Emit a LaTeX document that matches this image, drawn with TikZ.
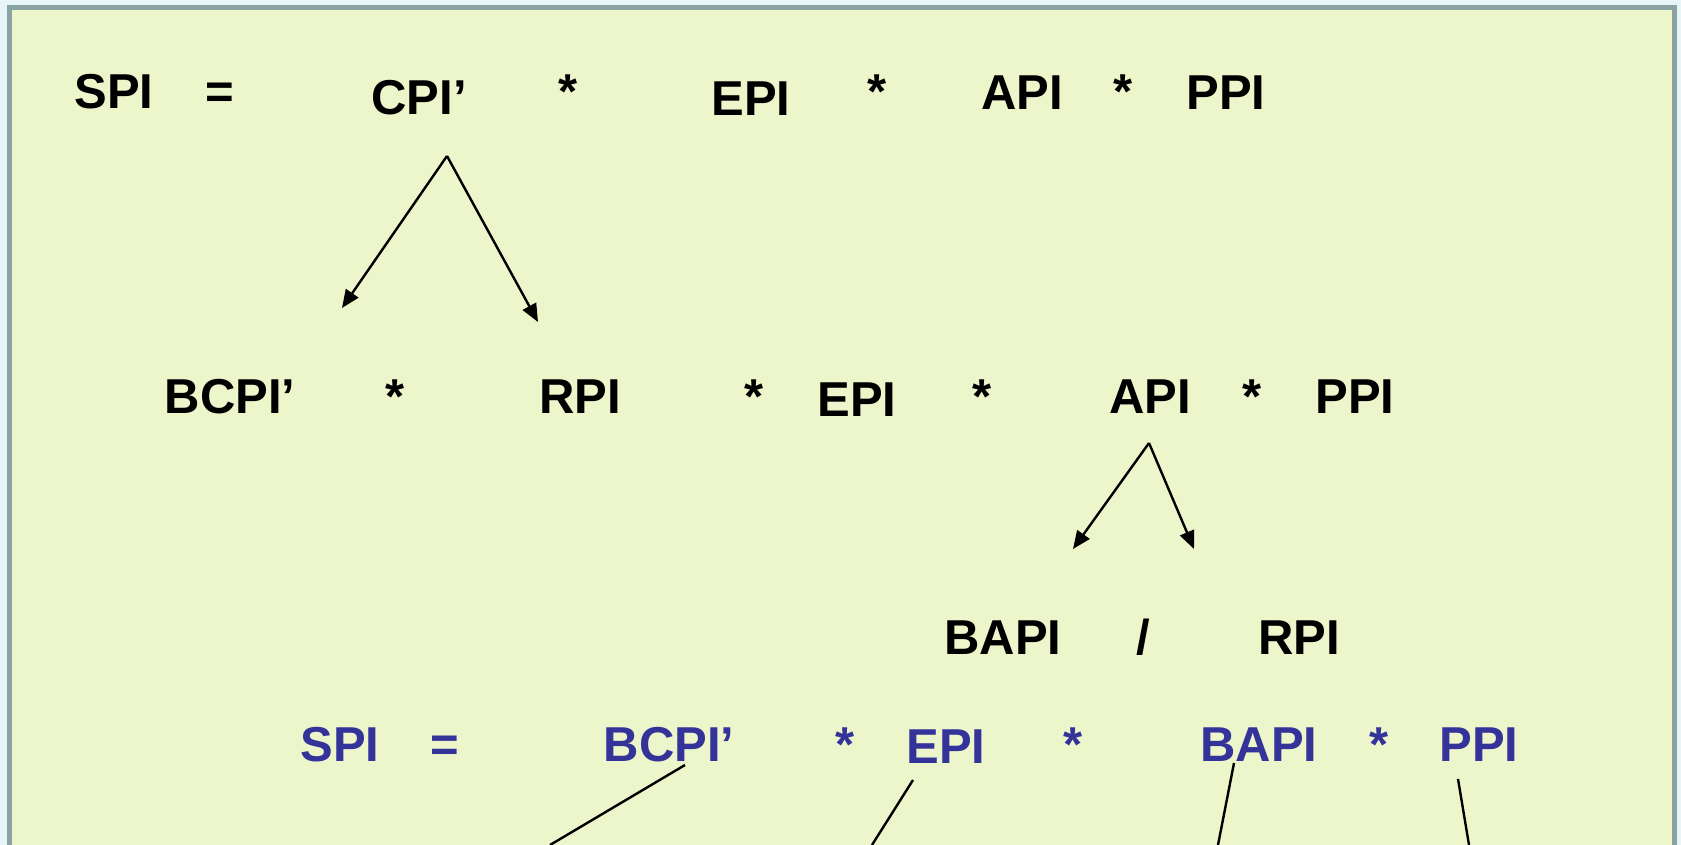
\documentclass[tikz,border=0pt]{standalone}
\usepackage{fontspec}
\setmainfont{Liberation Sans}
\usetikzlibrary{arrows.meta}
\definecolor{pagebg}{RGB}{232,245,247}
\definecolor{panel}{RGB}{237,245,203}
\definecolor{frame}{RGB}{137,163,165}
\definecolor{term}{RGB}{51,51,153}
\tikzset{
  word/.style={anchor=base, inner sep=0pt, font=\fontsize{49}{58}\selectfont\bfseries},
  blueword/.style={word, text=term},
  branch/.style={line width=2.4pt, -{Triangle[length=18pt,width=15pt]}},
  link/.style={line width=2.4pt}
}
\begin{document}
\begin{tikzpicture}[x=1pt,y=-1pt]
\useasboundingbox (0,0) rectangle (1681,845);
\fill[pagebg] (0,0) rectangle (1681,845);
\fill[frame] (7,5) rectangle (1677,860);
\fill[panel] (12,10) rectangle (1672,860);

% first line
\node[word] (spiA) at (114,109) {SPI};
\node[word] (eqA)  at (220,109) {=};
\node[word] (cpi)  at (419,115) {CPI’};
\node[word] (m1)   at (568,109) {*};
\node[word] (epiA) at (751,116) {EPI};
\node[word] (m2)   at (877,109) {*};
\node[word] (apiA) at (1022,110) {API};
\node[word] (m3)   at (1123,109) {*};
\node[word] (ppiA) at (1226,110) {PPI};

% second line
\node[word] (bcpi) at (230,413) {BCPI’};
\node[word] (m4)   at (395,413) {*};
\node[word] (rpiA) at (580,413) {RPI};
\node[word] (m5)   at (754,413) {*};
\node[word] (epiB) at (857,416) {EPI};
\node[word] (m6)   at (982,413) {*};
\node[word] (apiB) at (1150,413) {API};
\node[word] (m7)   at (1252,413) {*};
\node[word] (ppiB) at (1355,413) {PPI};

% third line
\node[word] (bapi) at (1003,654) {BAPI};
\node[word] (sl)   at (1143,654) {/};
\node[word] (rpiB) at (1299,654) {RPI};

% result line
\node[blueword] (spiC)  at (340,761) {SPI};
\node[blueword] (eqC)   at (445,761) {=};
\node[blueword] (bcpiC) at (669,761) {BCPI’};
\node[blueword] (m8)    at (845,761) {*};
\node[blueword] (epiC)  at (946,763) {EPI};
\node[blueword] (m9)    at (1073,761) {*};
\node[blueword] (bapiC) at (1259,761) {BAPI};
\node[blueword] (m10)   at (1379,761) {*};
\node[blueword] (ppiC)  at (1479,761) {PPI};

% branching points and line ends
\coordinate (cpiRoot) at (447,156);
\coordinate (cpiL) at (342,308);
\coordinate (cpiR) at (538,322);
\coordinate (apiRoot) at (1149,443);
\coordinate (apiL) at (1073,549);
\coordinate (apiR) at (1194,549);
\coordinate (bcpiFoot) at (685,765);
\coordinate (bcpiEnd) at (550,845);
\coordinate (epiFoot) at (913,780);
\coordinate (epiEnd) at (872,845);
\coordinate (bapiFoot) at (1234,763);
\coordinate (bapiEnd) at (1218,845);
\coordinate (ppiFoot) at (1458,779);
\coordinate (ppiEnd) at (1469,845);

\draw[branch] (cpiRoot) -- (cpiL);
\draw[branch] (cpiRoot) -- (cpiR);
\draw[branch] (apiRoot) -- (apiL);
\draw[branch] (apiRoot) -- (apiR);
\draw[link] (bcpiFoot) -- (bcpiEnd);
\draw[link] (epiFoot) -- (epiEnd);
\draw[link] (bapiFoot) -- (bapiEnd);
\draw[link] (ppiFoot) -- (ppiEnd);
\end{tikzpicture}
\end{document}
